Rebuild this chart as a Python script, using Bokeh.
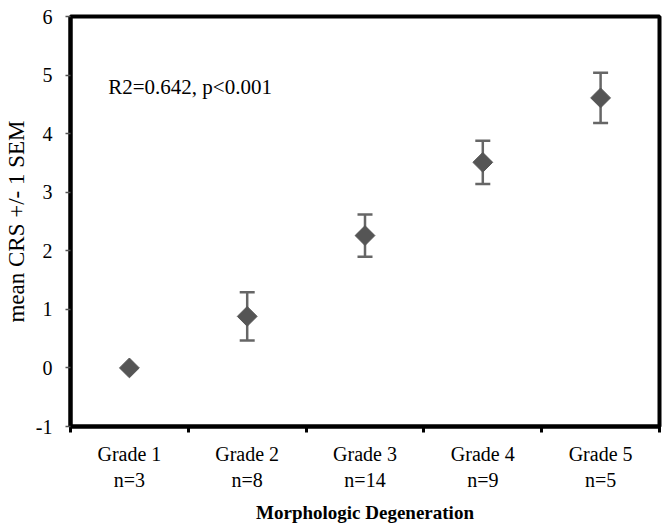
import math
from bokeh.plotting import figure
from bokeh.models import (ColumnDataSource, Whisker, TeeHead, FixedTicker, Label, Range1d)
from bokeh.embed import file_html
from bokeh.resources import INLINE

# ---- data ----
grades = ["Grade 1", "Grade 2", "Grade 3", "Grade 4", "Grade 5"]
counts = [3, 8, 14, 9, 5]
mean_crs = [0.0, 0.88, 2.26, 3.51, 4.61]
sem = [0.0, 0.41, 0.36, 0.37, 0.43]
y_ticks = [-1, 0, 1, 2, 3, 4, 5, 6]
annotation = "R2=0.642, p<0.001"

xpos = [i + 0.5 for i in range(len(grades))]
src = ColumnDataSource(dict(
    x=xpos, y=mean_crs,
    upper=[m + s for m, s in zip(mean_crs, sem)],
    lower=[m - s for m, s in zip(mean_crs, sem)],
))

FONT = "Liberation Serif"

p = figure(output_backend="svg", toolbar_location=None,
           frame_width=589, frame_height=410,
           x_range=Range1d(0, len(grades)), y_range=Range1d(-1, 6),
           min_border_left=69, min_border_right=4, min_border_top=16, min_border_bottom=91)
p.xgrid.visible = False
p.ygrid.visible = False
p.outline_line_color = "black"
p.outline_line_width = 4
p.background_fill_color = "white"
p.border_fill_color = "white"

# y axis
ya = p.yaxis[0]
ya.ticker = FixedTicker(ticks=y_ticks, minor_ticks=[])
ya.major_label_overrides = {t: str(t) for t in y_ticks}
ya.axis_line_color = "black"
ya.axis_line_width = 4
ya.major_tick_in = 0
ya.major_tick_out = 5
ya.major_tick_line_color = "#555555"
ya.major_tick_line_width = 1.5
ya.minor_tick_line_color = None
ya.major_label_standoff = 13
ya.major_label_text_font = FONT
ya.major_label_text_font_size = "20px"
ya.major_label_text_color = "black"
ya.axis_label = "mean CRS +/- 1 SEM"
ya.axis_label_text_font = FONT
ya.axis_label_text_font_style = "normal"
ya.axis_label_text_font_size = "23px"
ya.axis_label_text_color = "black"
ya.axis_label_standoff = 4

# x axis: labels at category centres, ticks at boundaries
xa = p.xaxis[0]
xa.ticker = FixedTicker(ticks=xpos, minor_ticks=list(range(len(grades) + 1)))
xa.major_label_overrides = {x: f"{g}\nn={n}" for x, g, n in zip(xpos, grades, counts)}
xa.axis_line_color = "black"
xa.axis_line_width = 4
xa.major_tick_in = 0
xa.major_tick_out = 0
xa.minor_tick_in = 0
xa.minor_tick_out = 6
xa.minor_tick_line_color = "black"
xa.minor_tick_line_width = 3
xa.major_label_standoff = 10
xa.major_label_text_font = FONT
xa.major_label_text_font_size = "20px"
xa.major_label_text_color = "black"
xa.axis_label = "Morphologic Degeneration"
xa.axis_label_text_font = FONT
xa.axis_label_text_font_style = "bold"
xa.axis_label_text_font_size = "19px"
xa.axis_label_text_color = "black"
xa.axis_label_standoff = 8

# error bars
w = Whisker(source=src, base="x", upper="upper", lower="lower",
            line_color="#666666", line_width=2.5,
            upper_head=TeeHead(size=15, line_color="#666666", line_width=2.5),
            lower_head=TeeHead(size=15, line_color="#666666", line_width=2.5))
p.add_layout(w)

# diamonds
p.scatter("x", "y", source=src, marker="square", angle=math.pi / 4, size=14,
          fill_color="#555555", line_color="#555555", line_width=1)

p.add_layout(Label(x=0.32, y=4.8, text=annotation, text_font=FONT,
                   text_font_size="21px", text_color="black", text_baseline="middle"))

open("out.html", "w").write(file_html(p, INLINE))
